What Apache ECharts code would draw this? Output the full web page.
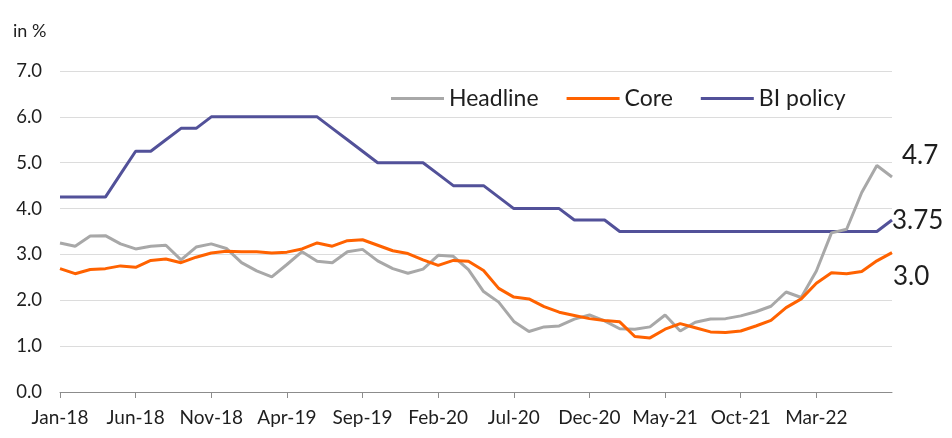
<!DOCTYPE html>
<html>
<head>
<meta charset="utf-8">
<script src="https://cdn.jsdelivr.net/npm/echarts@6/dist/echarts.min.js"></script>
<style>html,body{margin:0;padding:0;background:#fff;}#c{width:952px;height:438px;}</style>
</head>
<body>
<div id="c"></div>
<script>
var months = ['Jan-18','Feb-18','Mar-18','Apr-18','May-18','Jun-18','Jul-18','Aug-18','Sep-18','Oct-18','Nov-18','Dec-18',
  'Jan-19','Feb-19','Mar-19','Apr-19','May-19','Jun-19','Jul-19','Aug-19','Sep-19','Oct-19','Nov-19','Dec-19',
  'Jan-20','Feb-20','Mar-20','Apr-20','May-20','Jun-20','Jul-20','Aug-20','Sep-20','Oct-20','Nov-20','Dec-20',
  'Jan-21','Feb-21','Mar-21','Apr-21','May-21','Jun-21','Jul-21','Aug-21','Sep-21','Oct-21','Nov-21','Dec-21',
  'Jan-22','Feb-22','Mar-22','Apr-22','May-22','Jun-22','Jul-22','Aug-22'];
var headline = [3.25,3.18,3.40,3.41,3.23,3.12,3.18,3.20,2.88,3.16,3.23,3.13,
  2.82,2.64,2.51,2.78,3.06,2.85,2.82,3.06,3.11,2.86,2.69,2.59,
  2.68,2.98,2.96,2.67,2.19,1.96,1.54,1.32,1.42,1.44,1.59,1.68,
  1.55,1.38,1.37,1.42,1.68,1.33,1.52,1.59,1.60,1.66,1.75,1.87,
  2.18,2.06,2.64,3.47,3.55,4.35,4.94,4.69];
var core = [2.69,2.58,2.67,2.69,2.75,2.72,2.87,2.90,2.82,2.94,3.03,3.07,
  3.06,3.06,3.03,3.05,3.12,3.25,3.18,3.30,3.32,3.20,3.08,3.02,
  2.88,2.76,2.87,2.85,2.65,2.26,2.07,2.03,1.86,1.74,1.67,1.60,
  1.56,1.53,1.21,1.18,1.37,1.49,1.40,1.31,1.30,1.33,1.44,1.56,
  1.84,2.03,2.37,2.60,2.58,2.63,2.86,3.04];
var biPolicy = [4.25,4.25,4.25,4.25,4.75,5.25,5.25,5.50,5.75,5.75,6.00,6.00,
  6.00,6.00,6.00,6.00,6.00,6.00,5.75,5.50,5.25,5.00,5.00,5.00,
  5.00,4.75,4.50,4.50,4.50,4.25,4.00,4.00,4.00,4.00,3.75,3.75,
  3.75,3.50,3.50,3.50,3.50,3.50,3.50,3.50,3.50,3.50,3.50,3.50,
  3.50,3.50,3.50,3.50,3.50,3.50,3.50,3.75];
var seriesNames = ['Headline','Core','BI policy'];
var yTicks = [0,1,2,3,4,5,6,7];

var FONT = 'Lato, "Open Sans", sans-serif';
var TXT = '#1e1e1e';
var chart = echarts.init(document.getElementById('c'), null, {renderer:'canvas'});
function showTick(i){ return i % 5 === 0 && i < months.length - 1; }
function mkSeries(name, data, color, fmt, offset, z) {
  return {
    name: name, type: 'line', data: data, symbol: 'none', z: z,
    lineStyle: {color: color, width: 3},
    itemStyle: {color: color},
    endLabel: {show: true, formatter: function(p){ return fmt(p.value); },
      color: TXT, fontSize: 26, fontFamily: FONT, offset: offset, distance: 1}
  };
}
chart.setOption({
  animation: false,
  title: {text: 'in %', left: 8, top: 17, textStyle: {fontSize: 18, fontWeight: 'normal', color: TXT, fontFamily: FONT}},
  legend: {
    data: seriesNames, left: 386, top: 82, icon: 'rect', itemWidth: 53, itemHeight: 3, itemGap: 28,
    textStyle: {fontSize: 23, color: TXT, fontFamily: FONT, padding: [0,0,0,0]}
  },
  grid: {left: 60, right: 60, top: 71, bottom: 46, containLabel: false},
  xAxis: {
    type: 'category', data: months, boundaryGap: false,
    axisLine: {lineStyle: {color: '#8c8c8c', width: 1}},
    axisTick: {show: true, interval: showTick, length: 6, lineStyle: {color: '#8c8c8c'}},
    axisLabel: {interval: showTick, color: TXT, fontSize: 19, fontFamily: FONT, margin: 16},
    splitLine: {show: false}
  },
  yAxis: {
    type: 'value', min: yTicks[0], max: yTicks[yTicks.length-1], interval: 1,
    axisLine: {show: false}, axisTick: {show: false},
    axisLabel: {color: TXT, fontSize: 18.5, fontFamily: FONT, margin: 18, formatter: function(v){return v.toFixed(1);}},
    splitLine: {lineStyle: {color: '#dcdcdc', width: 1}}
  },
  series: [
    mkSeries(seriesNames[0], headline, '#a8a8a8', function(v){return v.toFixed(1);}, [9, -21], 3),
    mkSeries(seriesNames[1], core, '#ff6200', function(v){return v.toFixed(1);}, [0, 24], 4),
    mkSeries(seriesNames[2], biPolicy, '#525199', function(v){return v.toFixed(2);}, [-1, 1], 2)
  ]
});
</script>
</body>
</html>
